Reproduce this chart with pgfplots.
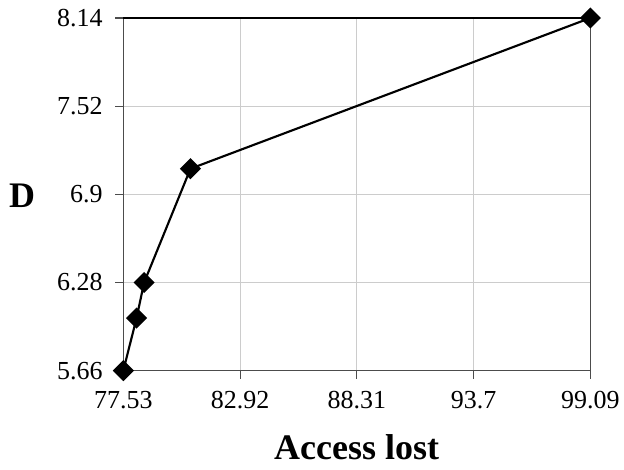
\documentclass[border=0pt]{standalone}
\usepackage{fontspec}
\setmainfont{Liberation Serif}
\usepackage{pgfplots}
\pgfplotsset{compat=1.18}
\begin{document}
\begin{tikzpicture}
\begin{axis}[
  scale only axis,
  width=350.6pt, height=264.75pt,
  xmin=77.53, xmax=99.09, ymin=5.66, ymax=8.14,
  xtick={77.53,82.92,88.31,93.7,99.09},
  ytick={5.66,6.28,6.9,7.52,8.14},
  xticklabels={77.53,82.92,88.31,93.7,99.09},
  yticklabels={5.66,6.28,6.9,7.52,8.14},
  xtick pos=bottom, ytick pos=left,
  tick align=outside, major tick length=6pt,
  tick style={black!70, line width=0.8pt},
  xmajorgrids, ymajorgrids,
  grid style={gray!40, line width=0.8pt},
  axis line style={black!70, line width=0.8pt},
  every tick label/.append style={font=\fontsize{19.5}{22}\selectfont},
  xticklabel style={yshift=-6pt},
  yticklabel style={xshift=-6pt},
  /pgf/number format/assume math mode=true,
  xlabel={Access lost}, ylabel={D},
  every axis x label/.style={at={(axis description cs:0.4995,-0.218)}, anchor=center, font=\fontsize{27}{30}\selectfont\bfseries},
  every axis y label/.style={at={(axis description cs:-0.217,0.496)}, anchor=center, font=\fontsize{27}{30}\selectfont\bfseries},
  clip=false,
]
\addplot[black, line width=1.6pt, mark=square*, mark size=4.8pt, mark options={rotate=45, solid, fill=black}] coordinates {
  (77.53,5.66) (78.14,6.03) (78.49,6.28) (80.63,7.08) (99.09,8.14)
};
\end{axis}
\draw[black, line width=0.8pt] (current axis.north west) -- (current axis.north east);
\path (current axis.south west) ++(-92.6pt,-74.25pt) rectangle ++(468pt,352.5pt);
\end{tikzpicture}
\end{document}
